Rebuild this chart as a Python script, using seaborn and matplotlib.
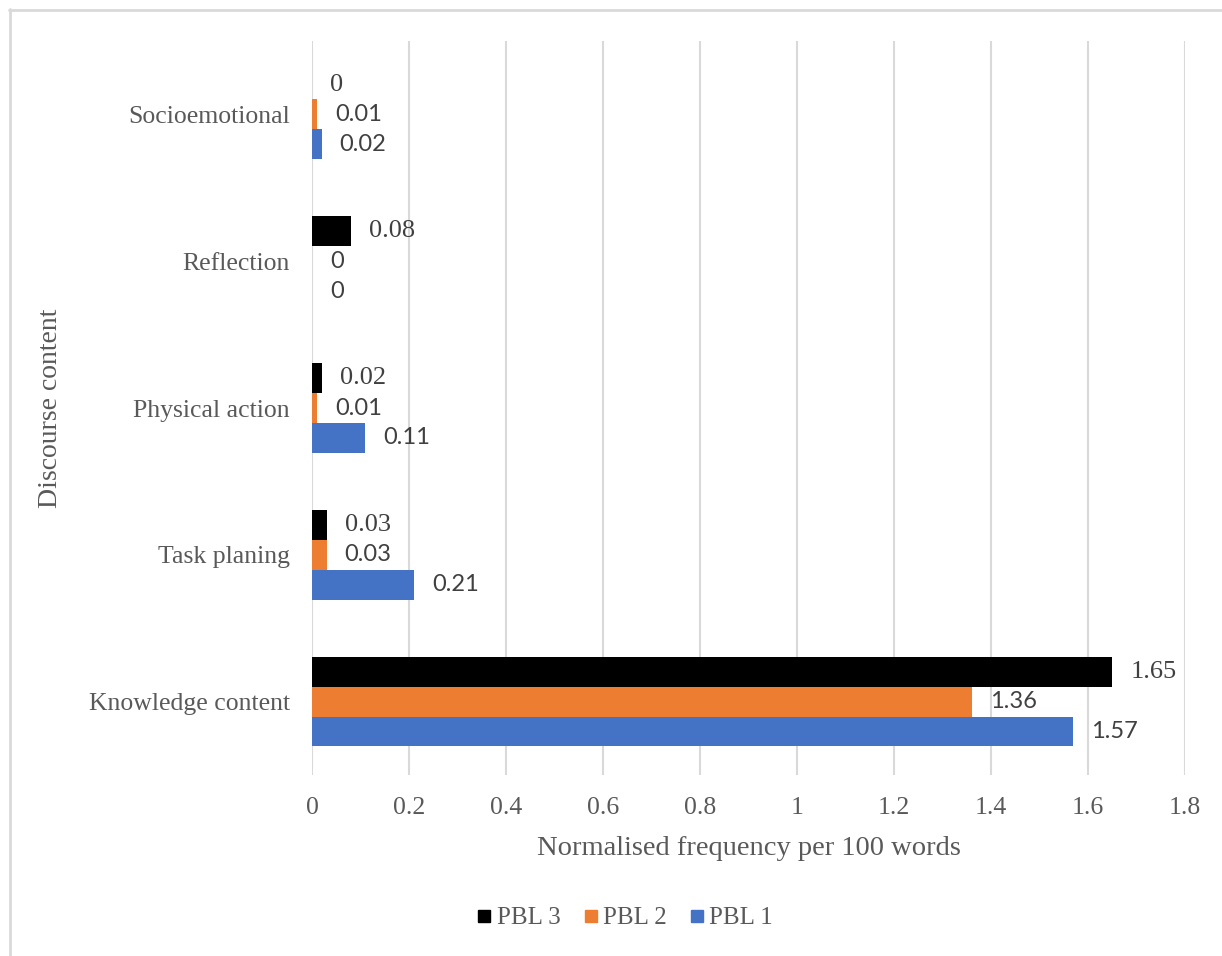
import pandas as pd
import seaborn as sns
import matplotlib.pyplot as plt
from matplotlib.lines import Line2D

# data
categories = ["Socioemotional", "Reflection", "Physical action", "Task planing", "Knowledge content"]
groups = ["PBL 3", "PBL 2", "PBL 1"]
pbl3 = [0, 0.08, 0.02, 0.03, 1.65]
pbl2 = [0.01, 0, 0.01, 0.03, 1.36]
pbl1 = [0.02, 0, 0.11, 0.21, 1.57]
colors = {"PBL 3": "#000000", "PBL 2": "#ED7D31", "PBL 1": "#4472C4"}

rows = []
for g, vals in zip(groups, [pbl3, pbl2, pbl1]):
    for c, v in zip(categories, vals):
        rows.append([c, g, v])
df = pd.DataFrame(rows, columns=["content", "group", "value"])

sns.set_style("white")
plt.rcParams["font.family"] = ["Liberation Serif", "DejaVu Serif"]

fig = plt.figure(figsize=(12.22, 9.56), dpi=100)
ax = fig.add_axes([0.2553, 0.1893, 0.9697 - 0.2553, 0.9571 - 0.1893])

sns.barplot(data=df, y="content", x="value", hue="group", order=categories,
            hue_order=groups, palette=colors, width=0.61, gap=0,
            orient="h", ax=ax, legend=False, saturation=1, linewidth=0)

# value labels: PBL 3 in serif, the others in sans
for cont, g in zip(ax.containers, groups):
    if g == "PBL 3":
        fam, fs = ["Liberation Serif"], 19
    else:
        fam, fs = ["Lato", "DejaVu Sans"], 17
    ax.bar_label(cont, labels=[f"{v:g}" for v in cont.datavalues], padding=13,
                 fontsize=fs, color="#404040", family=fam)

ax.set_xlim(0, 1.8)
ax.set_xticks([0, 0.2, 0.4, 0.6, 0.8, 1, 1.2, 1.4, 1.6, 1.8])
ax.set_xticklabels(["0", "0.2", "0.4", "0.6", "0.8", "1", "1.2", "1.4", "1.6", "1.8"])
ax.grid(axis="x", color="#D9D9D9", linewidth=1.5)
ax.set_axisbelow(True)
for s in ax.spines.values():
    s.set_visible(False)
ax.tick_params(axis="both", length=0, labelsize=18.5, labelcolor="#595959")
ax.tick_params(axis="x", pad=16)
ax.tick_params(axis="y", pad=16)

ax.set_xlabel("Normalised frequency per 100 words", fontsize=20.5, color="#595959", labelpad=12)
ax.set_ylabel("Discourse content", fontsize=20, color="#595959")
ax.yaxis.set_label_coords(63 / 1222, 1 - 408 / 956, transform=fig.transFigure)

handles = [Line2D([], [], marker="s", linestyle="", markersize=9,
                  color=colors[g]) for g in groups]
fig.legend(handles, groups, loc="center", bbox_to_anchor=(625 / 1222, 1 - 918 / 956),
           ncol=3, frameon=False, fontsize=18, handlelength=0.6,
           handletextpad=0.2, columnspacing=0.9, labelcolor="#595959")

# outer frame (only top and left edges are visible)
fig.add_artist(Line2D([9 / 1222, 1], [1 - 9.5 / 956, 1 - 9.5 / 956],
                      transform=fig.transFigure, color="#D9D9D9", linewidth=2))
fig.add_artist(Line2D([9.5 / 1222, 9.5 / 1222], [0, 1 - 9 / 956],
                      transform=fig.transFigure, color="#D9D9D9", linewidth=2))

fig.savefig("out.png", dpi=100)
